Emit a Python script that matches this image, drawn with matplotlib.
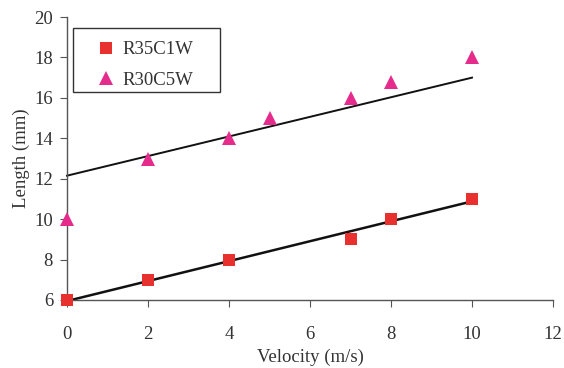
import matplotlib
matplotlib.use('Agg')
import matplotlib.pyplot as plt
from matplotlib.patches import Rectangle

# measured data
vel_sq = [0, 2, 4, 7, 8, 10]
len_sq = [6, 7, 8, 9, 10, 11]
vel_tri = [0, 2, 4, 5, 7, 8, 10]
len_tri = [10, 13, 14, 15, 16, 16.8, 18]

# trend lines (end points)
trend_x = [0, 10]
trend_sq = [5.95, 10.88]
trend_tri = [12.15, 17.0]

xticks = [0, 2, 4, 6, 8, 10, 12]
yticks = [6, 8, 10, 12, 14, 16, 18, 20]

plt.rcParams['font.family'] = ['Liberation Serif', 'DejaVu Serif']
fs = 13.5

fig = plt.figure(figsize=(5.64, 3.68), dpi=100)
ax = fig.add_axes([67 / 564, 68 / 368, (553 - 67) / 564, (300 - 17) / 368])

ax.plot(trend_x, trend_sq, color='#111111', lw=1.8, zorder=2)
ax.plot(trend_x, trend_tri, color='#111111', lw=1.4, zorder=2)
ax.plot(vel_sq, len_sq, 's', color='#e8302f', ms=8.5, mew=0, label='R35C1W', zorder=3)
ax.plot(vel_tri, len_tri, '^', color='#e52b8c', ms=10, mew=0, label='R30C5W', zorder=3)

ax.set_xlim(0, 12)
ax.set_ylim(6, 20)
ax.set_xticks(xticks)
ax.set_yticks(yticks)
for s in ['top', 'right']:
    ax.spines[s].set_visible(False)
for s in ['left', 'bottom']:
    ax.spines[s].set_color('#555555')
    ax.spines[s].set_linewidth(1.0)
ax.tick_params(axis='x', direction='out', length=5, color='#555555', pad=14,
               labelsize=fs, labelcolor='#333333')
ax.tick_params(axis='y', direction='out', length=5, color='#555555', pad=5,
               labelsize=fs, labelcolor='#333333')
for ln in ax.lines:
    ln.set_clip_on(False)

ax.set_xlabel('Velocity (m/s)', fontsize=fs, color='#333333', labelpad=4)
ax.set_ylabel('Length (mm)', fontsize=fs, color='#333333', labelpad=3)

# legend box drawn separately (wide right padding like the original)
box = Rectangle((6 / 486, 208 / 283), 147 / 486, 64 / 283, transform=ax.transAxes,
                fill=True, facecolor='white', edgecolor='#333333', lw=1.0, zorder=4)
ax.add_patch(box)
leg = ax.legend(loc='upper left', bbox_to_anchor=(27.75 / 486, 1 - 24 / 283),
                frameon=False, fontsize=fs, handlelength=1.2,
                handletextpad=0.3, borderpad=0, labelspacing=0.72,
                borderaxespad=0)
leg.set_zorder(5)
for t in leg.get_texts():
    t.set_color('#333333')

fig.savefig('out.png', dpi=100)
